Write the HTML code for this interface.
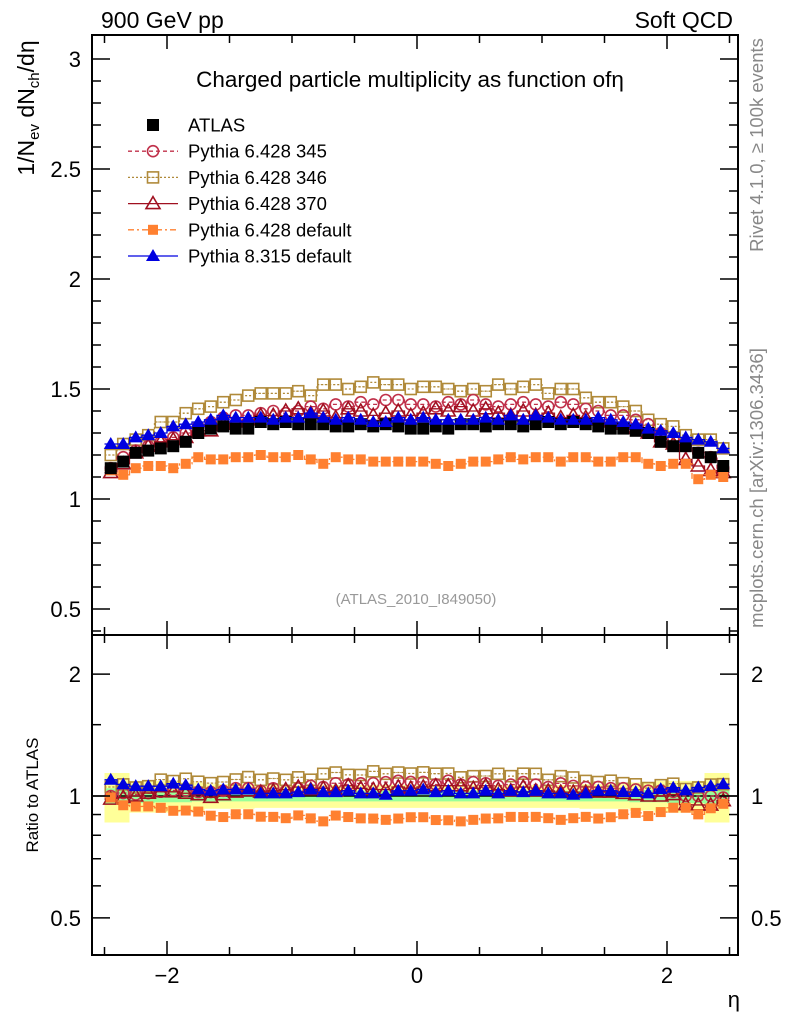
<!DOCTYPE html>
<html><head><meta charset="utf-8"><style>
body{margin:0;background:#fff;}
svg text{font-family:"Liberation Sans",sans-serif;}
</style></head><body>
<svg id="chart" width="786" height="1024" xmlns="http://www.w3.org/2000/svg">
<g id="bands"></g>
<g id="series"></g>
<g id="axes"></g>
<text x="101" y="28" font-size="23">900 GeV pp</text>
<text x="733" y="28" font-size="23" text-anchor="end">Soft QCD</text>
<text x="410" y="87" font-size="22.5" text-anchor="middle">Charged particle multiplicity as function ofη</text>
<text x="416" y="604" font-size="15" fill="#999" text-anchor="middle">(ATLAS_2010_I849050)</text>
<text transform="translate(34,108) rotate(-90)" font-size="23" text-anchor="middle">1/N<tspan font-size="15" dy="5">ev</tspan><tspan dy="-5"> dN</tspan><tspan font-size="15" dy="5">ch</tspan><tspan dy="-5">/dη</tspan></text>
<text transform="translate(38,795) rotate(-90)" font-size="17" text-anchor="middle">Ratio to ATLAS</text>
<text x="740" y="1007" font-size="22" text-anchor="end">η</text>
<text transform="translate(763,145) rotate(-90)" font-size="18.5" fill="#888" text-anchor="middle">Rivet 4.1.0, ≥ 100k events</text>
<text transform="translate(763,488) rotate(-90)" font-size="18.5" fill="#888" text-anchor="middle">mcplots.cern.ch [arXiv:1306.3436]</text>
<g id="legend"></g>
</svg>
<script>
const etaBins=[-2.45,-2.35,-2.25,-2.15,-2.05,-1.95,-1.85,-1.75,-1.65,-1.55,-1.45,-1.35,-1.25,-1.15,-1.05,-0.95,-0.85,-0.75,-0.65,-0.55,-0.45,-0.35,-0.25,-0.15,-0.05,0.05,0.15,0.25,0.35,0.45,0.55,0.65,0.75,0.85,0.95,1.05,1.15,1.25,1.35,1.45,1.55,1.65,1.75,1.85,1.95,2.05,2.15,2.25,2.35,2.45];
const atlas=[1.14,1.17,1.21,1.22,1.23,1.24,1.26,1.30,1.32,1.33,1.32,1.32,1.35,1.34,1.35,1.34,1.34,1.34,1.33,1.33,1.34,1.33,1.34,1.33,1.32,1.32,1.33,1.32,1.34,1.34,1.33,1.34,1.34,1.33,1.34,1.35,1.34,1.35,1.34,1.33,1.32,1.32,1.31,1.30,1.26,1.24,1.24,1.21,1.19,1.15];
const p345=[1.14,1.19,1.22,1.24,1.26,1.28,1.30,1.33,1.35,1.37,1.38,1.38,1.39,1.40,1.39,1.40,1.42,1.41,1.43,1.42,1.44,1.43,1.45,1.45,1.43,1.43,1.42,1.44,1.43,1.45,1.43,1.42,1.43,1.44,1.43,1.42,1.44,1.43,1.41,1.40,1.38,1.38,1.36,1.34,1.30,1.27,1.24,1.21,1.19,1.14];
const p346=[1.20,1.25,1.27,1.29,1.35,1.35,1.39,1.41,1.42,1.44,1.45,1.47,1.48,1.48,1.48,1.49,1.47,1.52,1.52,1.50,1.51,1.53,1.52,1.52,1.50,1.51,1.51,1.50,1.49,1.50,1.49,1.52,1.50,1.51,1.52,1.48,1.50,1.50,1.46,1.44,1.44,1.42,1.40,1.36,1.34,1.33,1.29,1.27,1.27,1.23];
const p370=[1.12,1.16,1.21,1.24,1.26,1.27,1.28,1.31,1.31,1.34,1.35,1.36,1.38,1.38,1.40,1.41,1.39,1.40,1.37,1.41,1.40,1.38,1.39,1.40,1.38,1.39,1.41,1.40,1.42,1.40,1.41,1.39,1.38,1.40,1.38,1.39,1.37,1.38,1.37,1.36,1.35,1.34,1.32,1.30,1.26,1.25,1.18,1.15,1.13,1.12];
const pdef=[1.13,1.11,1.14,1.15,1.15,1.14,1.16,1.19,1.18,1.18,1.19,1.19,1.20,1.19,1.19,1.20,1.18,1.16,1.19,1.18,1.18,1.17,1.17,1.17,1.17,1.17,1.16,1.15,1.16,1.17,1.17,1.18,1.19,1.18,1.19,1.19,1.17,1.19,1.19,1.17,1.17,1.19,1.19,1.16,1.15,1.16,1.16,1.09,1.11,1.10];
const p8=[1.25,1.25,1.28,1.29,1.30,1.33,1.34,1.35,1.36,1.38,1.37,1.37,1.37,1.36,1.37,1.37,1.39,1.37,1.36,1.37,1.36,1.35,1.35,1.37,1.36,1.37,1.36,1.36,1.36,1.36,1.37,1.36,1.38,1.36,1.38,1.37,1.36,1.36,1.36,1.37,1.36,1.35,1.34,1.32,1.31,1.30,1.28,1.27,1.26,1.23];
const bandYellow=[0.14,0.14,0.09,0.09,0.09,0.09,0.08,0.08,0.07,0.07,0.07,0.07,0.065,0.065,0.065,0.065,0.065,0.065,0.065,0.065,0.065,0.065,0.065,0.065,0.065,0.065,0.065,0.065,0.065,0.065,0.065,0.065,0.065,0.065,0.065,0.065,0.065,0.065,0.07,0.07,0.07,0.07,0.08,0.08,0.09,0.09,0.09,0.09,0.14,0.14];
const bandGreen=[0.045,0.045,0.04,0.04,0.035,0.035,0.035,0.03,0.03,0.03,0.03,0.03,0.03,0.03,0.03,0.03,0.03,0.03,0.03,0.03,0.03,0.03,0.03,0.03,0.03,0.03,0.03,0.03,0.03,0.03,0.03,0.03,0.03,0.03,0.03,0.03,0.03,0.03,0.03,0.03,0.03,0.03,0.035,0.035,0.035,0.04,0.04,0.04,0.045,0.045];
const mainTicks=[0.5,1,1.5,2,2.5,3];
const ratioTicks=[0.5,1,2];
const xTicks=[-2,0,2];

const NS="http://www.w3.org/2000/svg";
const L=92,R=738,T1=35,B1=635,T2=635,B2=955;
const xs=e=>417+125*e;
const ym=v=>499-220*(v-1);
const yr=r=>796-405*Math.log10(r);
function mk(tag,attrs,parent){const el=document.createElementNS(NS,tag);for(const k in attrs)el.setAttribute(k,attrs[k]);parent.appendChild(el);return el;}
const axes=document.getElementById('axes'),series=document.getElementById('series'),bands=document.getElementById('bands'),legend=document.getElementById('legend');

function bandPath(w){let top='',bot='';const n=etaBins.length;for(let i=0;i<n;i++){const x0=xs(etaBins[i]-0.05),x1=xs(etaBins[i]+0.05);top+=(i?'L':'M')+x0+','+yr(1+w[i])+'L'+x1+','+yr(1+w[i]);}for(let i=n-1;i>=0;i--){const x0=xs(etaBins[i]-0.05),x1=xs(etaBins[i]+0.05);bot+='L'+x1+','+yr(1-w[i])+'L'+x0+','+yr(1-w[i]);}return top+bot+'Z';}
let by=mk('path',{d:bandPath(bandYellow),fill:'#ffff99'},bands);


let bg=mk('path',{d:bandPath(bandGreen),fill:'#99ff99'},bands);



mk('rect',{x:L,y:T1,width:R-L,height:B1-T1,fill:'none',stroke:'#000','stroke-width':2},axes);
mk('rect',{x:L,y:T2,width:R-L,height:B2-T2,fill:'none',stroke:'#000','stroke-width':2},axes);
mk('line',{x1:L,x2:R,y1:yr(1),y2:yr(1),stroke:'#000','stroke-width':1.5},series);
for(let e=-2.5;e<=2.51;e+=0.5){const x=xs(e);const major=Math.abs(e-Math.round(e/2)*2)<0.01;const len=major?14:8;
[[T1,1],[B1,-1],[T2,1],[B2,-1]].forEach(([y,d])=>mk('line',{x1:x,x2:x,y1:y,y2:y+d*len,stroke:'#000','stroke-width':1.5},axes));}
xTicks.forEach(t=>{const tx=mk('text',{x:xs(t),y:983,'font-size':22,'text-anchor':'middle'},axes);tx.textContent=(t<0?'\u2212':'')+Math.abs(t);

});
for(let v=0.4;v<=3.1;v+=0.1){const y=ym(v);if(y<T1||y>B1)continue;const major=Math.abs(v*2-Math.round(v*2))<0.01;const len=major?18:9;
mk('line',{x1:L,x2:L+len,y1:y,y2:y,stroke:'#000','stroke-width':1.5},axes);mk('line',{x1:R,x2:R-len,y1:y,y2:y,stroke:'#000','stroke-width':1.5},axes);}
mainTicks.forEach(t=>{const tx=mk('text',{x:81,y:ym(t)+8,'font-size':22,'text-anchor':'end'},axes);tx.textContent=String(t);

});
[0.5,0.6,0.7,0.8,0.9,1,1.5,2,2.5].forEach(v=>{const y=yr(v);const major=[0.5,1,2].includes(v);const len=major?18:9;
if(y<T2+2||y>B2)return;mk('line',{x1:L,x2:L+len,y1:y,y2:y,stroke:'#000','stroke-width':1.5},axes);mk('line',{x1:R,x2:R-len,y1:y,y2:y,stroke:'#000','stroke-width':1.5},axes);});
ratioTicks.forEach(t=>{[[81,'end'],[751,'start']].forEach(([x,a])=>{const tx=mk('text',{x:x,y:yr(t)+8,'font-size':22,'text-anchor':a},axes);tx.textContent=String(t);

});});

function marker(type,x,y,color,parent){
 if(type==='fsq')return mk('rect',{x:x-6,y:y-6,width:12,height:12,fill:color},parent);
 if(type==='osq'){const g=mk('g',{},parent);mk('rect',{x:x-5.5,y:y-5.5,width:11,height:11,fill:'none',stroke:color,'stroke-width':1.6},g);mk('rect',{x:x-2.5,y:y-0.5,width:1,height:1,fill:color},g);mk('rect',{x:x+1.5,y:y-0.5,width:1,height:1,fill:color},g);return g;}
 if(type==='sq')return mk('rect',{x:x-5,y:y-5,width:10,height:10,fill:color},parent);
 if(type==='oc')return mk('circle',{cx:x,cy:y,r:5.5,fill:'none',stroke:color,'stroke-width':1.6},parent);
 if(type==='ot')return mk('path',{d:`M${x},${y-7}L${x+7},${y+5}L${x-7},${y+5}Z`,fill:'none',stroke:color,'stroke-width':1.6},parent);
 if(type==='ft')return mk('path',{d:`M${x},${y-7}L${x+7},${y+5}L${x-7},${y+5}Z`,fill:color},parent);
}
const defs=[
 {name:'atlas',data:atlas,color:'#000',m:'fsq',dash:null,label:'ATLAS'},
 {name:'pythia6-345',data:p345,color:'#c0304a',m:'oc',dash:'4,3',label:'Pythia 6.428 345'},
 {name:'pythia6-346',data:p346,color:'#b08a3a',m:'osq',dash:'2,2',label:'Pythia 6.428 346'},
 {name:'pythia6-370',data:p370,color:'#a01020',m:'ot',dash:null,label:'Pythia 6.428 370'},
 {name:'pythia6-default',data:pdef,color:'#ff8030',m:'sq',dash:'6,3,2,3',label:'Pythia 6.428 default'},
 {name:'pythia8-default',data:p8,color:'#0000e0',m:'ft',dash:null,label:'Pythia 8.315 default'}];
const drawOrder=[2,1,3,4,0,5];
drawOrder.forEach(k=>{const s=defs[k];
 const g=mk('g',{},series);
 
 
 const gr=mk('g',{},series);
 
 
 if(k>0){let d='',dr='';s.data.forEach((v,i)=>{const x0=xs(etaBins[i]-0.05),x1=xs(etaBins[i]+0.05);d+=(i?'L':'M')+x0+','+ym(v)+'L'+x1+','+ym(v);const r=v/atlas[i];dr+=(i?'L':'M')+x0+','+yr(r)+'L'+x1+','+yr(r);});
  const a={fill:'none',stroke:s.color,'stroke-width':1.3};if(s.dash)a['stroke-dasharray']=s.dash;mk('path',Object.assign({d:d},a),g);mk('path',Object.assign({d:dr},a),gr);}
 s.data.forEach((v,i)=>{const p=marker(s.m,xs(etaBins[i]),ym(v),s.color,g);
  
  
  if(k>0){const q=marker(s.m,xs(etaBins[i]),yr(v/atlas[i]),s.color,gr);
  
  }});
});
defs.forEach((s,i)=>{const y=125+i*26.2;const g=mk('g',{},legend);
 
 
 if(i>0){const a={x1:128,x2:178,y1:y,y2:y,stroke:s.color,'stroke-width':1.3};if(s.dash)a['stroke-dasharray']=s.dash;mk('line',a,g);}
 marker(s.m,153,y,s.color,g);
 const t=mk('text',{x:188,y:y+6.5,'font-size':18.5},g);t.textContent=s.label;});
</script>
</body></html>
